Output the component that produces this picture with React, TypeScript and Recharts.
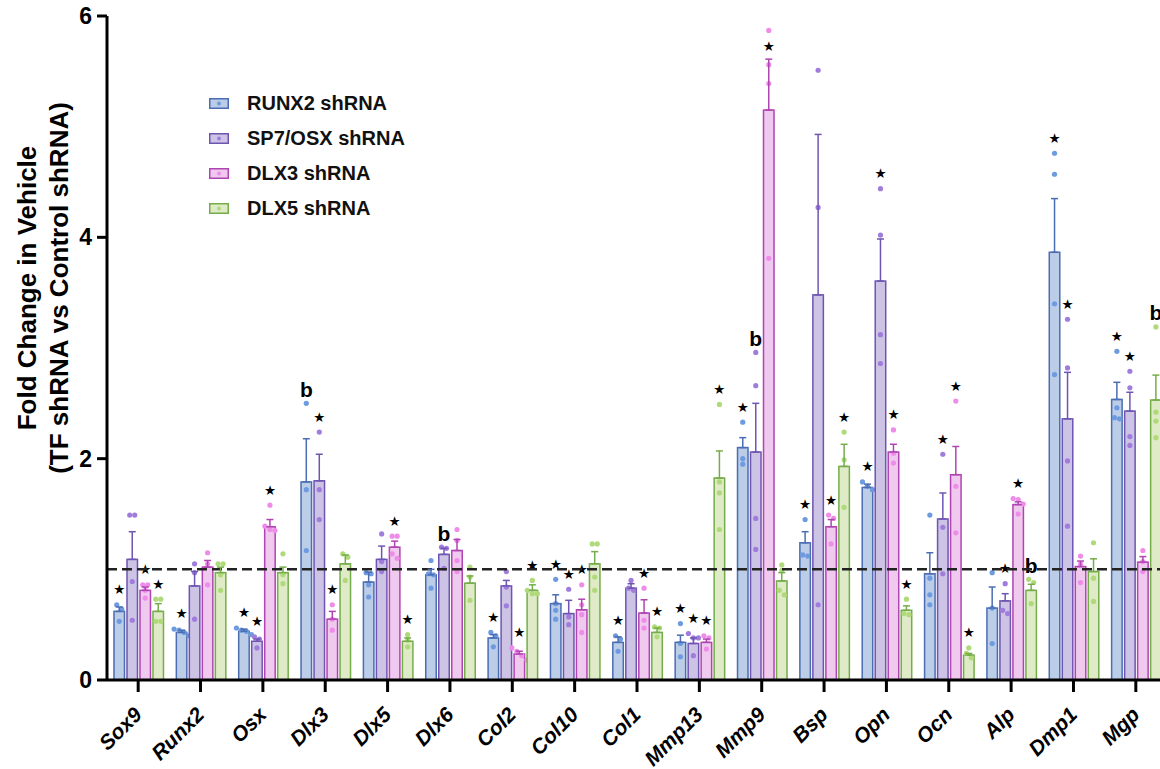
import React from "react";
import { BarChart, Bar, XAxis, YAxis, ReferenceLine, ErrorBar, Legend } from "recharts";

const genes = ["Sox9", "Runx2", "Osx", "Dlx3", "Dlx5", "Dlx6", "Col2", "Col10", "Col1", "Mmp13", "Mmp9", "Bsp", "Opn", "Ocn", "Alp", "Dmp1", "Mgp"];

const runx2Mean = [0.62, 0.43, 0.44, 1.79, 0.885, 0.95, 0.38, 0.69, 0.34, 0.34, 2.1, 1.24, 1.74, 0.96, 0.65, 3.865, 2.535];
const runx2Sem = [0.04, 0.02, 0.02, 0.39, 0.09, 0.05, 0.03, 0.08, 0.05, 0.065, 0.09, 0.1, 0.03, 0.19, 0.19, 0.485, 0.155];
const runx2Reps = [
  [0.68, 0.64, 0.53], [0.46, 0.45, 0.43, 0.4], [0.47, 0.45, 0.44, 0.41], [2.5, 1.72, 1.17],
  [0.97, 0.96, 0.86, 0.75], [1.08, 0.96, 0.95, 0.83], [0.43, 0.4, 0.3], [0.91, 0.69, 0.63, 0.55],
  [0.4, 0.37, 0.26], [0.51, 0.33, 0.21], [2.33, 2.0, 1.95], [1.45, 1.13, 1.12], [1.79, 1.75, 1.72],
  [1.49, 0.92, 0.77, 0.68], [0.97, 0.65, 0.33], [4.76, 4.57, 3.4, 2.76], [2.97, 2.46, 2.37, 2.36],
];
const runx2Marks = ["*", "*", "*", "b", "", "", "*", "*", "*", "*", "*", "*", "*", "", "", "*", "*"];

const sp7Mean = [1.09, 0.85, 0.35, 1.8, 1.09, 1.135, 0.85, 0.6, 0.83, 0.33, 2.06, 3.48, 3.605, 1.455, 0.715, 2.36, 2.43];
const sp7Sem = [0.25, 0.13, 0.02, 0.24, 0.12, 0.055, 0.05, 0.12, 0.04, 0.05, 0.44, 1.45, 0.38, 0.235, 0.065, 0.42, 0.17];
const sp7Reps = [
  [1.49, 1.49, 0.89, 0.54], [1.05, 0.97, 0.55], [0.39, 0.37, 0.29], [2.24, 1.72, 1.45],
  [1.32, 1.07, 0.98], [1.2, 1.19, 1.01], [0.98, 0.84, 0.67], [0.82, 0.57, 0.5],
  [0.9, 0.83, 0.81], [0.42, 0.38, 0.38, 0.22], [2.96, 2.66, 1.46, 1.18], [5.51, 4.27, 0.68],
  [4.44, 4.02, 3.12, 2.86], [2.04, 1.38, 0.96], [0.87, 0.63, 0.6], [3.26, 2.82, 1.98, 1.39], [2.79, 2.64, 2.2, 2.12],
];
const sp7Marks = ["", "", "*", "*", "", "b", "", "*", "", "*", "b", "", "*", "*", "*", "*", "*"];

const dlx3Mean = [0.81, 1.02, 1.385, 0.55, 1.2, 1.17, 0.235, 0.635, 0.605, 0.34, 5.15, 1.385, 2.06, 1.855, 1.585, 1.025, 1.065];
const dlx3Sem = [0.03, 0.06, 0.065, 0.07, 0.055, 0.1, 0.025, 0.095, 0.12, 0.03, 0.46, 0.065, 0.07, 0.255, 0.025, 0.05, 0.05];
const dlx3Reps = [
  [0.86, 0.86, 0.81, 0.74], [1.15, 1.05, 0.86], [1.58, 1.39, 1.36, 1.35], [0.68, 0.55, 0.45],
  [1.3, 1.3, 1.14, 1.1], [1.36, 1.26, 1.08, 0.98], [0.29, 0.26, 0.22, 0.18], [0.86, 0.68, 0.59, 0.43],
  [0.83, 0.54, 0.47], [0.4, 0.38, 0.28], [5.87, 5.56, 5.39, 3.81], [1.49, 1.46, 1.23],
  [2.26, 2.05, 1.96], [2.52, 1.75, 1.33], [1.64, 1.63, 1.59, 1.5], [1.12, 1.05, 0.88], [1.17, 1.07, 0.98],
];
const dlx3Marks = ["*", "", "*", "*", "*", "", "*", "*", "*", "*", "*", "*", "*", "*", "*", "", ""];

const dlx5Mean = [0.62, 0.97, 0.97, 1.05, 0.35, 0.875, 0.81, 1.05, 0.43, 1.825, 0.895, 1.93, 0.63, 0.225, 0.81, 0.98, 2.53];
const dlx5Sem = [0.07, 0.05, 0.05, 0.08, 0.03, 0.065, 0.05, 0.11, 0.04, 0.245, 0.075, 0.2, 0.04, 0.015, 0.055, 0.115, 0.225];
const dlx5Reps = [
  [0.73, 0.73, 0.53, 0.53], [1.05, 1.05, 0.95, 0.81], [1.14, 0.95, 0.87], [1.14, 1.11, 0.9],
  [0.41, 0.36, 0.3], [1.02, 0.93, 0.72], [0.9, 0.81, 0.78, 0.78], [1.23, 1.23, 0.93, 0.81],
  [0.48, 0.47, 0.39], [2.49, 1.79, 1.69, 1.36], [1.04, 0.99, 0.81, 0.77], [2.24, 1.99, 1.56],
  [0.73, 0.6, 0.59], [0.29, 0.24, 0.2], [0.91, 0.88, 0.69], [1.24, 0.92, 0.71], [3.19, 2.42, 2.34, 2.19],
];
const dlx5Marks = ["*", "", "", "", "*", "", "*", "", "*", "*", "", "*", "*", "*", "b", "", "b"];

const FONT = '"Liberation Sans", Arial, Helvetica, sans-serif';

const series = [
  { key: "runx2", name: "RUNX2 shRNA", mean: runx2Mean, sem: runx2Sem, reps: runx2Reps, marks: runx2Marks, fill: "#bccde8", stroke: "#4a6db4", dot: "#6e9be0" },
  { key: "sp7", name: "SP7/OSX shRNA", mean: sp7Mean, sem: sp7Sem, reps: sp7Reps, marks: sp7Marks, fill: "#cdc3e5", stroke: "#6e55b2", dot: "#a07ddc" },
  { key: "dlx3", name: "DLX3 shRNA", mean: dlx3Mean, sem: dlx3Sem, reps: dlx3Reps, marks: dlx3Marks, fill: "#f0c9ef", stroke: "#b044b2", dot: "#ef8ce9" },
  { key: "dlx5", name: "DLX5 shRNA", mean: dlx5Mean, sem: dlx5Sem, reps: dlx5Reps, marks: dlx5Marks, fill: "#dfeac6", stroke: "#74ad4a", dot: "#b0da7a" },
];

const data = genes.map((gene, i) => {
  const row: any = { gene };
  series.forEach((s) => {
    row[s.key] = s.mean[i];
    row[s.key + "Err"] = [0, s.sem[i]];
    row[s.key + "Reps"] = s.reps[i];
    row[s.key + "Mark"] = s.marks[i];
  });
  return row;
});

const DOT_R = 2.6;
const PLOT_TOP = 16;

const makeShape = (s: any) => (props: any) => {
  const { x, y, width, height, payload } = props;
  const mean = payload[s.key];
  const base = y + height;
  const k = height / mean;
  const cx = x + width / 2;
  const ys: number[] = payload[s.key + "Reps"].map((v: number) => base - v * k).sort((a: number, b: number) => a - b);
  // spread replicates that sit close together
  const dots: { x: number; y: number }[] = [];
  let cluster: number[] = [];
  const flush = () => {
    cluster.forEach((py, j) => dots.push({ x: cx + (j - (cluster.length - 1) / 2) * 5, y: py }));
    cluster = [];
  };
  ys.forEach((py) => {
    if (cluster.length && py - cluster[cluster.length - 1] > 4.5) flush();
    cluster.push(py);
  });
  flush();
  const errTop = base - (mean + payload[s.key + "Err"][1]) * k;
  let top = Math.min(errTop, ...ys.map((v) => v - DOT_R));
  if (top - 24 < PLOT_TOP) top = errTop;
  const mark = payload[s.key + "Mark"];
  return (
    <g>
      <rect x={x + 0.75} y={y} width={width - 1.5} height={height} fill={s.fill} stroke={s.stroke} strokeWidth={1.5} />
      {dots.map((d, j) => (
        <circle key={j} cx={d.x} cy={d.y} r={DOT_R} fill={s.dot} />
      ))}
      {mark === "*" ? (
        <text x={cx} y={top - 8} textAnchor="middle" fontFamily='"DejaVu Sans", sans-serif' fontSize={13.5} fill="#000">
          ★
        </text>
      ) : mark ? (
        <text x={cx} y={top - 4} textAnchor="middle" fontFamily={FONT} fontWeight="bold" fontSize={21} fill="#000">
          {mark}
        </text>
      ) : null}
    </g>
  );
};

function GeneTick({ x, y, payload }: any) {
  const ax = x + 5;
  const ay = y + 22;
  return (
    <text x={ax} y={ay} transform={`rotate(-45, ${ax}, ${ay})`} textAnchor="end" fontFamily={FONT} fontSize={21} fontWeight="bold" fontStyle="italic" fill="#000">
      {payload.value}
    </text>
  );
}

function YTitle({ viewBox }: any) {
  const cy = viewBox.y + viewBox.height / 2 - 60;
  return (
    <g>
      <text x={27} y={cy} transform={`rotate(-90, 27, ${cy})`} textAnchor="middle" dominantBaseline="central" fontFamily={FONT} fontSize={26} fontWeight="bold" fill="#000">
        Fold Change in Vehicle
      </text>
      <text x={59} y={cy} transform={`rotate(-90, 59, ${cy})`} textAnchor="middle" dominantBaseline="central" fontFamily={FONT} fontSize={26} fontWeight="bold" fill="#000">
        (TF shRNA vs Control shRNA)
      </text>
    </g>
  );
}

function LegendBox() {
  return (
    <div style={{ fontFamily: FONT }}>
      {series.map((s) => (
        <div key={s.key} style={{ display: "flex", alignItems: "center", height: 35 }}>
          <svg width={20} height={11} style={{ display: "block" }}>
            <rect x={0.75} y={0.75} width={18.5} height={9.5} fill={s.fill} stroke={s.stroke} strokeWidth={1.5} />
            <circle cx={10} cy={5.5} r={2} fill={s.dot} />
          </svg>
          <span style={{ marginLeft: 18, fontSize: 20, fontWeight: "bold", color: "#111", whiteSpace: "nowrap" }}>{s.name}</span>
        </div>
      ))}
    </div>
  );
}

export default function App() {
  return (
    <div style={{ position: "absolute", left: 0, top: 0, width: 1160, height: 769, overflow: "hidden", background: "#fff" }}>
      <BarChart width={1167} height={769} data={data} margin={{ top: PLOT_TOP, right: 0, bottom: 0, left: 0 }} barCategoryGap="10%" barGap={1}>
        <ReferenceLine y={1} stroke="#222" strokeWidth={2.5} strokeDasharray="10 5" />
        <XAxis
          dataKey="gene"
          interval={0}
          height={89}
          tickSize={12}
          tick={<GeneTick />}
          axisLine={{ stroke: "#000", strokeWidth: 3 }}
          tickLine={{ stroke: "#000", strokeWidth: 3 }}
        />
        <YAxis
          width={107}
          domain={[0, 6]}
          ticks={[0, 2, 4, 6]}
          tickSize={10}
          tickMargin={5}
          tick={{ fill: "#000", fontSize: 23, fontWeight: "bold", fontFamily: FONT }}
          axisLine={{ stroke: "#000", strokeWidth: 3 }}
          tickLine={{ stroke: "#000", strokeWidth: 3 }}
          label={<YTitle />}
        />
        <Legend layout="vertical" align="center" verticalAlign="middle" content={<LegendBox />} wrapperStyle={{ left: 209, top: 86, width: 260 }} />
        {series.map((s) => (
          <Bar key={s.key} dataKey={s.key} name={s.name} fill={s.fill} stroke={s.stroke} isAnimationActive={false} shape={makeShape(s)}>
            <ErrorBar dataKey={s.key + "Err"} direction="y" width={3.5} strokeWidth={1.5} stroke={s.stroke} isAnimationActive={false} />
          </Bar>
        ))}
      </BarChart>
    </div>
  );
}
